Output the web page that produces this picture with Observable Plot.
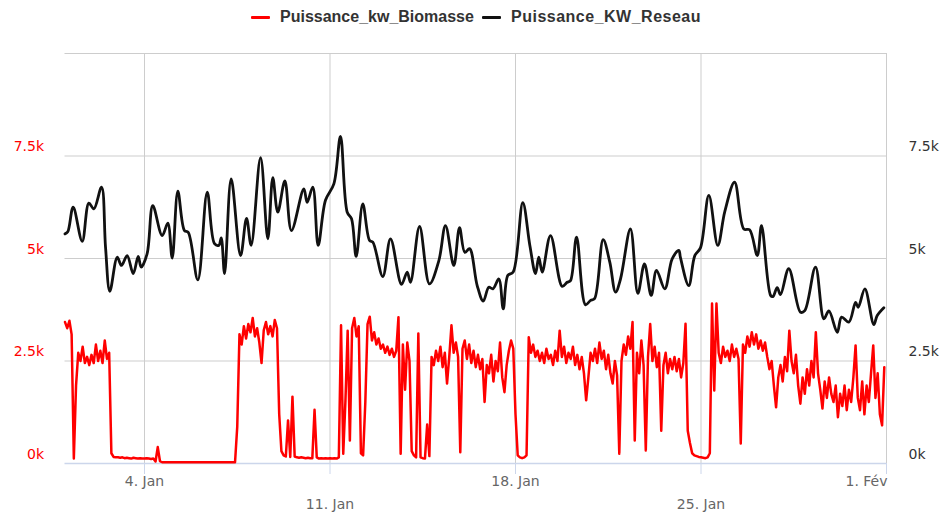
<!DOCTYPE html>
<html><head><meta charset="utf-8">
<script src="https://cdn.jsdelivr.net/npm/d3@7"></script>
<script src="https://cdn.jsdelivr.net/npm/@observablehq/plot@0.6"></script>
<style>
body{margin:0;background:#fff;width:948px;height:521px;overflow:hidden;font-family:"DejaVu Sans",sans-serif}
#legend{position:relative;height:34px;}
.item{position:absolute;top:0;height:34px;display:flex;align-items:center;font:bold 16px "Liberation Sans",sans-serif;color:#333;white-space:nowrap}
.sw{display:inline-block;width:19px;height:3px;margin-right:10px;border-radius:1px}
</style></head><body>
<div id="legend"></div>
<div id="chart"></div>
<script>
// Series names / colours
const seriesNames = ["Puissance_kw_Biomasse", "Puissance_KW_Reseau"];
const seriesColors = ["#ff0000", "#111111"];

// Puissance_KW_Reseau: hours since 1 Jan 00:00 and values (kW)
const reseauHours = [0, 2.5, 7.4, 15.6, 21.6, 26.1, 33.1, 36.7, 40.6, 47.3,
  51.2, 56.3, 61.8, 66.3, 69.0, 74.4, 79.5, 88.0, 93.1, 97.1,
  102.2, 108.2, 111.6, 120.3, 128.8, 135.4, 139.3, 141.5, 144.5, 150.5,
  159.0, 164.4, 168.6, 177.1, 183.7, 188.2, 192.7, 199.1, 205.1, 216.3,
  219.3, 224.4, 229.3, 235.9, 243.5, 249.5, 255.6, 259.5, 263.7, 269.7,
  275.8, 278.8, 287.8, 294.8, 304.8, 309.9, 312.9, 321.1, 330.1, 338.6,
  344.6, 352.1, 357.3, 362.1, 366.4, 373.3, 378.8, 383.8, 387.5, 392.9,
  396.9, 401.1, 405.9, 414.6, 421.0, 426.1, 429.1, 432.2, 439.7, 450.3,
  454.8, 457.8, 463.3, 471.4, 476.0, 479.6, 487.4, 493.4, 498.6, 503.1,
  512.1, 518.8, 524.8, 530.9, 535.7, 543.2, 549.9, 555.9, 557.4, 564.9,
  570.4, 575.5, 583.1, 591.2, 597.6, 606.4, 614.8, 620.0, 627.0, 630.8,
  639.0, 641.1, 645.0, 648.0, 655.5, 666.1, 670.0, 679.7, 687.3, 691.8,
  699.4, 703.3, 709.9, 716.0, 718.4, 724.4, 732.5, 735.6, 741.6];
const reseauKw = [5600, 5650, 6250, 5420, 6350, 6210, 6740, 5280, 4200, 5030,
  4830, 5070, 4630, 5050, 4790, 5120, 6290, 5560, 5860, 5010,
  6640, 5680, 5640, 4480, 6620, 5360, 5320, 5500, 4630, 6940,
  5070, 5980, 5320, 7460, 5480, 6970, 6130, 6890, 5680, 6700,
  6370, 6740, 5320, 6420, 6820, 7980, 6130, 5970, 5050, 6330,
  5440, 5400, 4560, 5480, 4370, 4670, 4420, 5780, 4380, 4950,
  5800, 4830, 5750, 5150, 5240, 4340, 3960, 4300, 4260, 4500,
  3770, 4590, 4670, 6360, 5320, 4630, 5030, 4670, 5560, 4320,
  4420, 4460, 5520, 3870, 3980, 4020, 5460, 4910, 4180, 4500,
  5720, 4150, 4870, 4100, 4710, 4260, 4990, 5200, 5020, 4340,
  5070, 5260, 6540, 5320, 6150, 6860, 5720, 5700, 5070, 5800,
  4100, 4070, 4290, 4120, 4750, 3690, 3730, 4790, 3530, 3720,
  3200, 3570, 3450, 3930, 3810, 4260, 3390, 3610, 3800];

// Puissance_kw_Biomasse: one reading every 2 hours from 1 Jan 00:00 (12 per day)
const biomasseStepHours = 2;
const biomasseKw = [
  3450, 3300, 3480, 3150, 120, 1900, 2700, 2500, 2850, 2450, 2600, 2400,
  2650, 2450, 2900, 2500, 2750, 2450, 3000, 2550, 2700, 250, 160, 150,
  150, 140, 150, 130, 140, 130, 120, 140, 130, 120, 130, 120,
  120, 130, 120, 110, 120, 50, 400, 60, 30, 30, 30, 30,
  30, 30, 30, 30, 30, 30, 30, 30, 30, 30, 30, 30,
  30, 30, 30, 30, 30, 30, 30, 30, 30, 30, 30, 30,
  30, 30, 30, 30, 30, 30, 900, 3150, 2900, 3350, 3050, 3400,
  3200, 3550, 3100, 3300, 2950, 2450, 3250, 3450, 3150, 3350, 3100, 3500,
  3300, 1200, 300, 200, 170, 1050, 160, 1630, 170, 150, 140, 150,
  140, 130, 140, 130, 130, 1310, 150, 120, 130, 120, 130, 120,
  130, 120, 130, 120, 150, 3370, 240, 1540, 3240, 560, 3300, 3550,
  3100, 3350, 250, 200, 1500, 3400, 3580, 3000, 3200, 2900, 3050, 2800,
  2900, 2700, 2850, 2650, 2800, 2600, 2750, 3570, 240, 2900, 1800, 2950,
  2500, 300, 200, 150, 3170, 150, 130, 120, 950, 180, 2600, 2400,
  2750, 2500, 2850, 2350, 2700, 1950, 2600, 3370, 2700, 2950, 2600, 275,
  2800, 3000, 2550, 2900, 2450, 2750, 2350, 2650, 2300, 2550, 1500, 2400,
  2200, 2650, 2000, 2500, 2250, 2950, 2100, 1740, 2400, 2750, 3000, 2800,
  1200, 200, 150, 130, 150, 200, 3080, 2700, 2900, 2600, 2750, 2500,
  2700, 2450, 2800, 2550, 2650, 2400, 2750, 2500, 3240, 2600, 2850, 2450,
  2700, 2550, 2850, 2400, 2650, 2300, 2600, 2200, 1540, 2100, 2700, 2500,
  2800, 2450, 2950, 2550, 2750, 2300, 2650, 2200, 1950, 2500, 2150, 240,
  2500, 2900, 2650, 3100, 2800, 3450, 560, 2700, 2200, 3000, 2400, 320,
  2600, 3400, 2500, 2850, 2350, 2700, 800, 2400, 2700, 2200, 2550, 2300,
  2600, 2250, 2550, 2100, 2450, 3410, 800, 500, 250, 200, 180, 160,
  150, 140, 130, 150, 250, 3900, 1780, 3900, 2700, 2450, 2850, 2600,
  2750, 2500, 2900, 2600, 2800, 2550, 490, 2900, 2700, 3100, 2850, 3200,
  2900, 3150, 2800, 3000, 2750, 2950, 2600, 2300, 2500, 1900, 1370, 2100,
  2400, 2000, 2600, 2250, 3240, 2500, 2200, 2650, 1900, 1460, 2100, 1700,
  2300, 1900, 2500, 2100, 3200, 2200, 1800, 1340, 2000, 1600, 2100, 1700,
  1500, 1900, 1130, 1700, 1400, 1900, 1300, 1800, 1500, 2100, 2880, 1600,
  1300, 2000, 1200, 1900, 1500, 2200, 2880, 1600, 2200, 1200, 930, 2350];

// Axes
const startDate = "2021-01-01";
const endDate = "2021-02-01";
const yTicks = [0, 2500, 5000, 7500];
const yTickLabels = ["0k", "2.5k", "5k", "7.5k"];
const yGrid = [2500, 5000, 7500, 10000];
const yMax = 10000;
const xTickDates = ["2021-01-04", "2021-01-11", "2021-01-18", "2021-01-25", "2021-02-01"];
const xTickLabels = ["4. Jan", "11. Jan", "18. Jan", "25. Jan", "1. Fév"];
const xTickRow = [0, 1, 0, 1, 0];

// Legend
const legend = document.getElementById("legend");
const legendLeft = [251, 482];
seriesNames.forEach((n, i) => {
  const it = document.createElement("div");
  it.className = "item";
  it.style.left = legendLeft[i] + "px";
  if (i === 1) it.style.letterSpacing = "0.5px";
  it.innerHTML = `<span class="sw" style="background:${seriesColors[i]}"></span>${n}`;
  legend.appendChild(it);
});

const t0 = new Date(startDate + "T00:00:00Z");
const t1 = new Date(endDate + "T00:00:00Z");
const H = 3600e3;
const reseau = reseauHours.map((h, i) => ({t: new Date(+t0 + h * H), v: reseauKw[i]}));
const bio = biomasseKw.map((v, i) => ({t: new Date(+t0 + i * biomasseStepHours * H), v}));
const xticks = xTickDates.map(d => new Date(d + "T00:00:00Z"));
const tickRows = xticks.map((t, i) => ({t, label: xTickLabels[i], row: xTickRow[i], last: i === xticks.length - 1}));
const yLab = d => yTickLabels[yTicks.indexOf(d)];

const chart = Plot.plot({
  width: 948, height: 487,
  marginTop: 19, marginBottom: 58, marginLeft: 64.5, marginRight: 62,
  x: {type: "utc", domain: [t0, t1]},
  y: {domain: [0, yMax], axis: null},
  style: {fontFamily: "DejaVu Sans, sans-serif", fontSize: "14px", background: "white", overflow: "visible"},
  marks: [
    Plot.ruleY(yGrid, {stroke: "#cdcdcd", strokeWidth: 1}),
    Plot.ruleX(xticks, {stroke: "#cdcdcd", strokeWidth: 1}),
    Plot.axisX(xticks, {tickSize: 11, tickFormat: () => "", stroke: "#ccd6eb", strokeOpacity: 1, label: null}),
    Plot.ruleY([0], {stroke: "#ccd6eb", strokeWidth: 1.5}),
    Plot.text(yTicks, {frameAnchor: "left", y: d => d, text: yLab, dx: -21, dy: -9, textAnchor: "end", fill: "#ff0000"}),
    Plot.text(yTicks, {frameAnchor: "right", y: d => d, text: yLab, dx: 22, dy: -9, textAnchor: "start", fill: "#333333"}),
    Plot.text(tickRows.filter(d => d.row === 0 && !d.last), {x: "t", text: "label", frameAnchor: "bottom", dy: 22, fill: "#666666"}),
    Plot.text(tickRows.filter(d => d.row === 1), {x: "t", text: "label", frameAnchor: "bottom", dy: 45, fill: "#666666"}),
    Plot.text(tickRows.filter(d => d.last), {x: "t", text: "label", frameAnchor: "bottom", dy: 22, textAnchor: "end", dx: 1, fill: "#666666"}),
    Plot.line(bio, {x: "t", y: "v", stroke: seriesColors[0], strokeWidth: 2.5, strokeLinejoin: "round"}),
    Plot.line(reseau, {x: "t", y: "v", stroke: seriesColors[1], strokeWidth: 2.8, curve: "catmull-rom"})
  ]
});
document.getElementById("chart").appendChild(chart);
</script></body></html>
